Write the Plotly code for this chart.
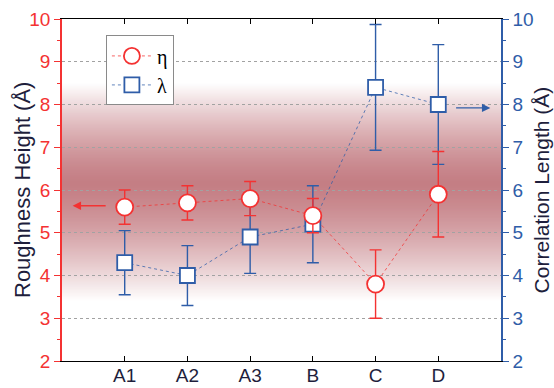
import plotly.graph_objects as go

categories = ["A1", "A2", "A3", "B", "C", "D"]
eta_values = [5.6, 5.7, 5.8, 5.4, 3.8, 5.9]
eta_errors = [0.4, 0.4, 0.4, 0.4, 0.8, 1.0]
lam_values = [4.3, 4.0, 4.9, 5.2, 8.4, 8.0]
lam_errors = [0.75, 0.7, 0.85, 0.9, 1.47, 1.4]
y_ticks = [2, 3, 4, 5, 6, 7, 8, 9, 10]

RED = "#f43232"
BLUE = "#2f5da8"
DARK = "#1e1e3c"
FONT = "Liberation Sans, Arial, sans-serif"

fig = go.Figure()

# lambda on main (right) axis, eta on overlaying left axis so eta draws on top
fig.add_trace(go.Scatter(
    x=categories, y=lam_values, name="λ", yaxis="y", legendrank=2,
    mode="lines+markers",
    line=dict(color="rgba(47,93,168,0.75)", width=1, dash="dot"),
    marker=dict(symbol="square", size=15, color="white",
                line=dict(color=BLUE, width=1.8)),
    error_y=dict(type="data", array=lam_errors, color=BLUE, thickness=1.4, width=6),
))
fig.add_trace(go.Scatter(
    x=categories, y=eta_values, name="η", yaxis="y2", legendrank=1,
    mode="lines+markers",
    line=dict(color="rgba(244,50,50,0.75)", width=1, dash="dot"),
    marker=dict(symbol="circle", size=17, color="white",
                line=dict(color=RED, width=1.8)),
    error_y=dict(type="data", array=eta_errors, color=RED, thickness=1.4, width=6),
))

# red gradient band in background (solid, slightly overlapping strips)
shapes = []
n = 160
lo, hi, center = 3.4, 8.5, 6.15
base = (196, 126, 132)
for i in range(n):
    y0 = lo + (hi - lo) * i / n
    y1 = lo + (hi - lo) * (i + 1) / n
    ym = (y0 + y1) / 2
    half = (center - lo) if ym < center else (hi - center)
    a = max(0.0, 1 - (abs(ym - center) / half) ** 1.4)
    r, g, b = (round(255 - a * (255 - c)) for c in base)
    shapes.append(dict(type="rect", xref="paper", yref="y", x0=0, x1=1,
                       y0=y0, y1=min(hi, y1 + 0.02), layer="below",
                       line=dict(width=0), fillcolor=f"rgb({r},{g},{b})"))

fig.update_layout(
    width=554, height=388,
    margin=dict(l=62, r=53, t=19, b=27),
    paper_bgcolor="white", plot_bgcolor="white",
    font=dict(family=FONT, color=DARK),
    shapes=shapes,
    showlegend=True,
    legend=dict(x=0.1, y=0.952, xanchor="left", yanchor="top",
                bgcolor="white", bordercolor="#8a8a8a", borderwidth=1,
                font=dict(family="Liberation Serif, serif", size=20, color="black"),
                tracegroupgap=0, itemwidth=40),
    xaxis=dict(
        type="category", range=[-1, 6], automargin=False,
        showline=True, linecolor="black", linewidth=1.3,
        mirror="ticks", ticks="inside", ticklen=5, tickcolor="black",
        ticklabelstandoff=-3,
        tickfont=dict(size=19, color=DARK), showgrid=False, zeroline=False,
    ),
    yaxis=dict(
        side="right", range=[2, 10], tickvals=y_ticks, automargin=False,
        showline=True, linecolor=BLUE, linewidth=1.5,
        ticks="outside", ticklen=6, tickcolor=BLUE, tickwidth=1.3,
        minor=dict(dtick=0.5, ticks="outside", ticklen=3, tickcolor=BLUE),
        tickfont=dict(size=19, color=BLUE),
        showgrid=True, gridcolor="#a2a2a2", griddash="dot", gridwidth=1,
        zeroline=False,
    ),
    yaxis2=dict(
        side="left", overlaying="y", range=[2, 10], tickvals=y_ticks, automargin=False,
        showline=True, linecolor=RED, linewidth=1.5,
        ticks="outside", ticklen=6, tickcolor=RED, tickwidth=1.3,
        minor=dict(dtick=0.5, ticks="outside", ticklen=3, tickcolor=RED),
        tickfont=dict(size=19, color=RED),
        showgrid=False, zeroline=False,
    ),
)

# axis titles
fig.add_annotation(text="Roughness Height (Å)", textangle=-90, showarrow=False,
                   xref="paper", yref="paper", x=-0.0911, y=0.5,
                   xanchor="center", yanchor="middle",
                   font=dict(size=22, color=DARK))
fig.add_annotation(text="Correlation Length (Å)", textangle=-90, showarrow=False,
                   xref="paper", yref="paper", x=1.092, y=0.5,
                   xanchor="center", yanchor="middle",
                   font=dict(size=21, color=DARK))

# direction arrows
fig.add_annotation(x=-0.83, y=5.63, ax=-0.28, ay=5.63, xref="x", yref="y2",
                   axref="x", ayref="y2", text="", showarrow=True,
                   arrowhead=2, arrowsize=1.2, arrowwidth=1.4, arrowcolor=RED)
fig.add_annotation(x=5.83, y=7.92, ax=5.26, ay=7.92, xref="x", yref="y",
                   axref="x", ayref="y", text="", showarrow=True,
                   arrowhead=2, arrowsize=1.2, arrowwidth=1.4, arrowcolor=BLUE)

fig.write_html("out.html")
